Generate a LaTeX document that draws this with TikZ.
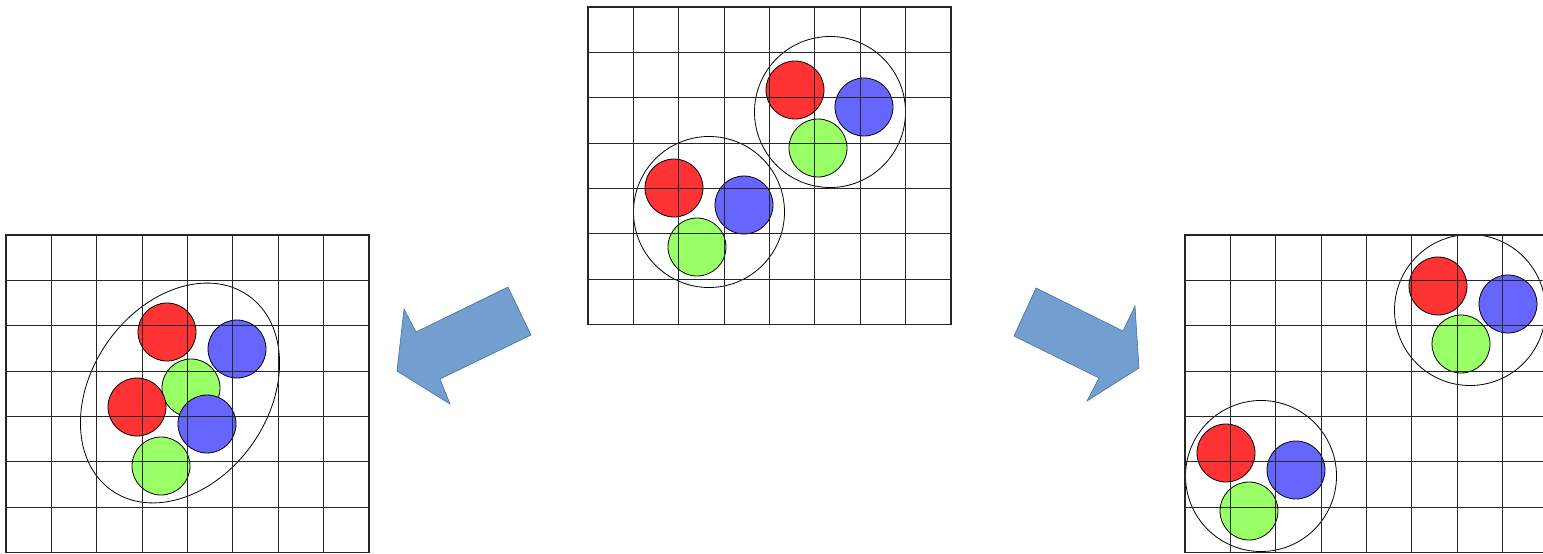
\documentclass[tikz,border=0pt]{standalone}
\usetikzlibrary{shapes.geometric}
\definecolor{ballred}{RGB}{255,51,51}
\definecolor{ballblue}{RGB}{102,102,255}
\definecolor{ballgreen}{RGB}{153,255,102}
\definecolor{arrowfill}{RGB}{114,159,207}
\definecolor{arrowdraw}{RGB}{65,113,156}
\newcommand\drawgridat[2]{%
  \foreach \i in {0,...,8} \draw[gridline] (#1+\i*45.375,#2) -- ++(0,317.6);
  \foreach \j in {0,...,7} \draw[gridline] (#1,#2+\j*45.37) -- ++(363,0);
}
\begin{document}
\begin{tikzpicture}[x=1pt,y=-1pt,
  gridline/.style={line width=1.1pt,black!85,line cap=rect},
  ball/.style={circle,draw=black,line width=0.8pt,minimum size=58pt,inner sep=0pt},
  redball/.style={ball,fill=ballred},
  blueball/.style={ball,fill=ballblue},
  greenball/.style={ball,fill=ballgreen},
  hull/.style={circle,draw=black,line width=0.8pt,minimum size=151pt,inner sep=0pt},
  bigarrow/.style={fill=arrowfill,draw=arrowdraw,line width=0.6pt,line join=miter}]
\useasboundingbox (0,0) rectangle (1543,554);
% centre picture
\node[hull] (c1h) at (709,212) {};
\node[redball] (c1r) at (674,188) {};
\node[blueball] (c1b) at (744,205) {};
\node[greenball] (c1g) at (697,247) {};
\node[hull] (c2h) at (830,112) {};
\node[redball] (c2r) at (795,90) {};
\node[blueball] (c2b) at (864,107) {};
\node[greenball] (c2g) at (818,148) {};
\drawgridat{588}{7}
% left picture
\node[ellipse,draw=black,line width=0.8pt,minimum width=238pt,minimum height=177pt,inner sep=0pt,rotate=55] (lh) at (180,393) {};
\node[redball] (l1r) at (167,332) {};
\node[blueball] (l1b) at (237,349) {};
\node[greenball] (l1g) at (191,388) {};
\node[redball] (l2r) at (137,407) {};
\node[blueball] (l2b) at (207,424) {};
\node[greenball] (l2g) at (161,466) {};
\drawgridat{6}{235}
% right picture
\begin{scope}
\clip (0,0) rectangle (1543,554);
\node[hull] (r1h) at (1261,476) {};
\node[redball] (r1r) at (1226,453) {};
\node[blueball] (r1b) at (1296,470) {};
\node[greenball] (r1g) at (1249,511) {};
\node[hull] (r2h) at (1470,310) {};
\node[redball] (r2r) at (1438,286) {};
\node[blueball] (r2b) at (1508,304) {};
\node[greenball] (r2g) at (1461,344) {};
\drawgridat{1185}{235}
\end{scope}
% arrows
\draw[bigarrow] (508,287) -- (531,335) -- (440,379) -- (450,404) -- (397,371) -- (404,309) -- (416,332) -- cycle;
\draw[bigarrow] (1036,288) -- (1123,331) -- (1135,306) -- (1139,368) -- (1087,401) -- (1099,378) -- (1014,336) -- cycle;
\end{tikzpicture}
\end{document}
